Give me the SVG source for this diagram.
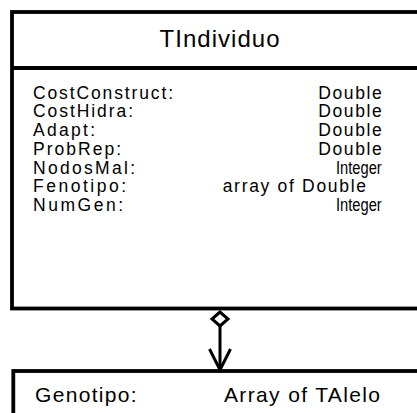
<svg xmlns="http://www.w3.org/2000/svg" width="417" height="413" viewBox="0 0 417 413">
  <style>
    .box { fill: #ffffff; stroke: #000000; stroke-width: 3.8; }
    .rule { stroke: #000000; stroke-width: 3.8; }
    .title { font-family: "Liberation Sans", Arial, sans-serif; font-size: 24px; fill: #000000; }
    .attr { font-family: "Liberation Sans", Arial, sans-serif; font-size: 17.5px; fill: #000000; }
    .attr2 { font-family: "Liberation Sans", Arial, sans-serif; font-size: 21px; fill: #000000; }
    .link { fill: none; stroke: #000000; stroke-width: 3; }
  </style>
  <defs>
    <marker id="aggregation" markerUnits="userSpaceOnUse" viewBox="-2 -11 20 22" refX="0" refY="0" markerWidth="20" markerHeight="22" orient="auto" overflow="visible">
      <path d="M0,0 L7,8 L14,0 L7,-8 Z" fill="#ffffff" stroke="#000000" stroke-width="3" stroke-linejoin="miter"/>
    </marker>
    <marker id="openArrow" markerUnits="userSpaceOnUse" viewBox="-24 -14 26 28" refX="0" refY="0" markerWidth="26" markerHeight="28" orient="auto" overflow="visible">
      <path d="M-21,-10.5 L0,0 L-21,10.5" fill="none" stroke="#000000" stroke-width="3"/>
    </marker>
  </defs>

  <rect width="417" height="413" fill="#ffffff"/>

  <!-- TIndividuo class -->
  <g id="TIndividuo">
    <rect class="box" x="12" y="12" width="430" height="296.5"/>
    <line class="rule" x1="12" y1="68" x2="442" y2="68"/>
    <text class="title" x="159.5" y="46.7" textLength="120" lengthAdjust="spacing">TIndividuo</text>

    <text class="attr" x="33" y="98.5" textLength="140" lengthAdjust="spacing">CostConstruct:</text>
    <text class="attr" x="33" y="117.25" textLength="100" lengthAdjust="spacing">CostHidra:</text>
    <text class="attr" x="33" y="136" textLength="62" lengthAdjust="spacing">Adapt:</text>
    <text class="attr" x="33" y="154.75" textLength="88" lengthAdjust="spacing">ProbRep:</text>
    <text class="attr" x="33" y="173.5" textLength="102" lengthAdjust="spacing">NodosMal:</text>
    <text class="attr" x="33" y="192.25" textLength="93" lengthAdjust="spacing">Fenotipo:</text>
    <text class="attr" x="33" y="211" textLength="90" lengthAdjust="spacing">NumGen:</text>

    <text class="attr" x="318.3" y="98.5" textLength="63.4" lengthAdjust="spacing">Double</text>
    <text class="attr" x="318.3" y="117.25" textLength="63.4" lengthAdjust="spacing">Double</text>
    <text class="attr" x="318.3" y="136" textLength="63.4" lengthAdjust="spacing">Double</text>
    <text class="attr" x="318.3" y="154.75" textLength="63.4" lengthAdjust="spacing">Double</text>
    <text class="attr" x="336" y="173.5" textLength="45.7" lengthAdjust="spacingAndGlyphs">Integer</text>
    <text class="attr" x="222.7" y="192.25" textLength="143.3" lengthAdjust="spacing">array of Double</text>
    <text class="attr" x="336" y="211" textLength="45.7" lengthAdjust="spacingAndGlyphs">Integer</text>
  </g>

  <!-- Genotipo holder class -->
  <g id="TGenotipo">
    <rect class="box" x="13.3" y="371" width="430" height="60"/>
    <text class="attr2" x="35" y="401.7" textLength="101.7" lengthAdjust="spacing">Genotipo:</text>
    <text class="attr2" x="224" y="401.7" textLength="156" lengthAdjust="spacing">Array of TAlelo</text>
  </g>

  <!-- aggregation link -->
  <g id="connectors">
    <path class="link" d="M220,312 L220,370" marker-start="url(#aggregation)" marker-end="url(#openArrow)"/>
  </g>
</svg>
